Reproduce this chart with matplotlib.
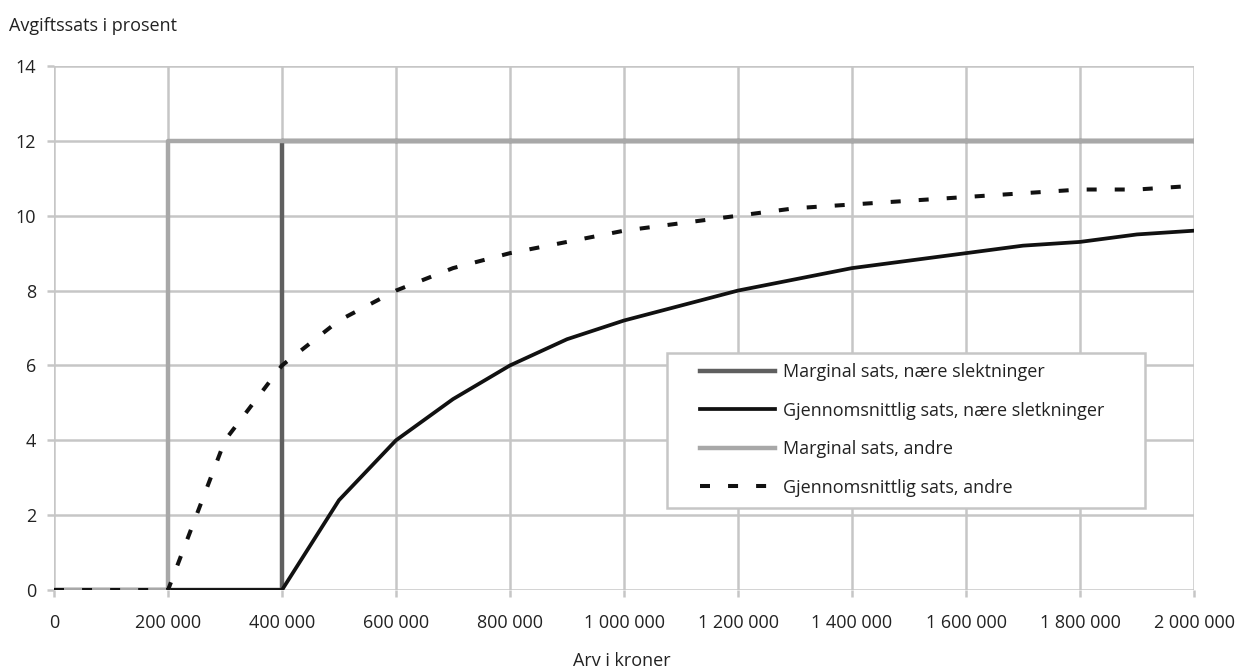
import matplotlib
matplotlib.use("Agg")
import matplotlib.pyplot as plt
from matplotlib.patches import Rectangle
from matplotlib.ticker import FuncFormatter

plt.rcParams["font.family"] = ["Open Sans", "DejaVu Sans"]
plt.rcParams["lines.scale_dashes"] = False

# Data: inheritance (kroner) and tax rate (percent)
arv = [0, 100000, 200000, 300000, 400000, 500000, 600000, 700000, 800000,
       900000, 1000000, 1100000, 1200000, 1300000, 1400000, 1500000,
       1600000, 1700000, 1800000, 1900000, 2000000]
marginal_naere = [0, 0, 0, 0, 12, 12, 12, 12, 12, 12, 12, 12, 12, 12, 12,
                  12, 12, 12, 12, 12, 12]
snitt_naere = [0, 0, 0, 0, 0, 2.4, 4.0, 5.1, 6.0, 6.7, 7.2, 7.6, 8.0, 8.3,
               8.6, 8.8, 9.0, 9.2, 9.3, 9.5, 9.6]
marginal_andre = [0, 0, 12, 12, 12, 12, 12, 12, 12, 12, 12, 12, 12, 12, 12,
                  12, 12, 12, 12, 12, 12]
snitt_andre = [0, 0, 0, 4.0, 6.0, 7.2, 8.0, 8.6, 9.0, 9.3, 9.6, 9.8, 10.0,
               10.2, 10.3, 10.4, 10.5, 10.6, 10.7, 10.7, 10.8]

labels = [
    "Marginal sats, nære slektninger",
    "Gjennomsnittlig sats, nære sletkninger",
    "Marginal sats, andre",
    "Gjennomsnittlig sats, andre",
]

GRID = "#c6c6c6"
TEXT = "#222222"
W, H = 1241, 670
FS = 13

fig = plt.figure(figsize=(W / 100, H / 100), dpi=100)
ax = fig.add_axes([54 / W, 1 - 590 / H, (1194 - 54) / W, (590 - 66) / H])

ax.step(arv, marginal_naere, where="post", color="#5f5f5f", lw=3.2,
        label=labels[0], zorder=3)
ax.plot(arv, snitt_naere, color="#111111", lw=2.7, label=labels[1], zorder=4)
ax.step(arv, marginal_andre, where="post", color="#a8a8a8", lw=3.2,
        label=labels[2], zorder=5)
ax.plot(arv, snitt_andre, color="#111111", lw=2.9, linestyle=(0, (7.2, 13)),
        label=labels[3], zorder=6)

ax.set_xlim(0, 2000000)
ax.set_ylim(0, 14)
ax.set_xticks(range(0, 2000001, 200000))
ax.set_yticks(range(0, 15, 2))
ax.xaxis.set_major_formatter(
    FuncFormatter(lambda v, p: f"{int(v):,}".replace(",", " ")))

ax.grid(True, color=GRID, lw=1.8, zorder=0)
ax.set_axisbelow(True)
for s in ax.spines.values():
    s.set_visible(False)
ax.tick_params(axis="both", colors=GRID, length=5, width=1.8,
               labelcolor=TEXT, labelsize=FS)
ax.tick_params(axis="x", pad=12)
ax.tick_params(axis="y", pad=8)

# legend: text rows ~38 px apart, frame drawn separately (wider side padding)
leg = ax.legend(loc="center left", bbox_to_anchor=(700 / W, 1 - 430 / H),
                bbox_transform=fig.transFigure, fontsize=FS, frameon=False,
                handlelength=75 / (FS * 100 / 72), handletextpad=0.45,
                labelspacing=1.13, borderpad=0, borderaxespad=0)
for t in leg.get_texts():
    t.set_color(TEXT)
leg.set_zorder(10)

fig.canvas.draw()
bb = leg.get_window_extent(fig.canvas.get_renderer())
cy = (bb.y0 + bb.y1) / 2
x0, x1 = bb.x0 - 33, bb.x1 + 40
frame = Rectangle((x0 / W, (cy - 77.5) / H), (x1 - x0) / W, 155 / H,
                  transform=fig.transFigure, facecolor="white",
                  edgecolor=GRID, lw=1.8, zorder=9, clip_on=False)
ax.add_patch(frame)

fig.text(9 / W, 1 - 31 / H, "Avgiftssats i prosent", fontsize=FS,
         color=TEXT, ha="left", va="baseline")
fig.text(622 / W, 1 - 666 / H, "Arv i kroner", fontsize=FS,
         color=TEXT, ha="center", va="baseline")

fig.savefig("out.png", dpi=100)
